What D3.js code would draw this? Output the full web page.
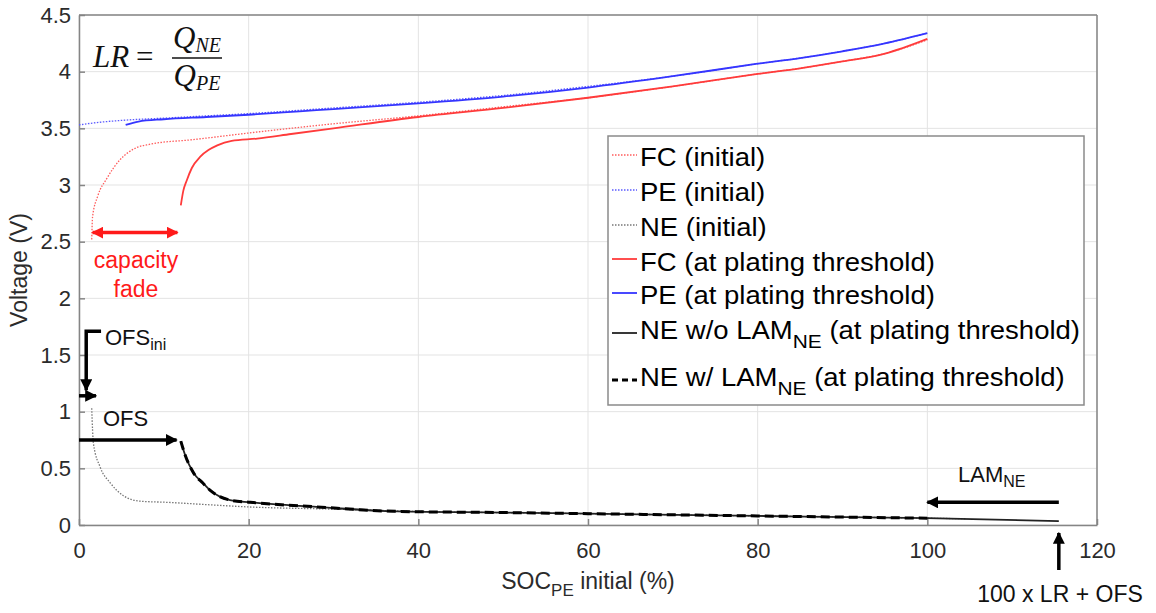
<!DOCTYPE html>
<html>
<head>
<meta charset="utf-8">
<script src="https://cdn.jsdelivr.net/npm/d3@7"></script>
<style>
  body { margin: 0; background: #fff; }
  svg { font-family: "Liberation Sans", Arial, sans-serif; }
</style>
</head>
<body>
<script>
// curves: SOC_PE initial (%) vs voltage (V)
const fcIniX = [1.5, 1.6, 2.2, 3.3, 4.8, 6.8, 8.4, 13.4, 21.3, 30, 40, 50, 60, 70, 80, 85, 90, 95, 100];
const fcIniY = [2.52, 2.72, 2.9, 3.06, 3.22, 3.33, 3.36, 3.40, 3.47, 3.54, 3.61, 3.69, 3.77, 3.87, 3.98, 4.03, 4.09, 4.16, 4.28];

const peIniX = [0, 2, 5, 10, 15, 20, 30, 40, 50, 60, 70, 80, 85, 90, 95, 100];
const peIniY = [3.53, 3.55, 3.57, 3.59, 3.61, 3.63, 3.68, 3.73, 3.79, 3.87, 3.96, 4.07, 4.12, 4.18, 4.25, 4.34];

const neIniX = [1.5, 1.7, 2.5, 3.7, 5.2, 7.2, 10.4, 15, 19.8, 30, 40, 60, 80, 100, 104.5];
const neIniY = [1.03, 0.72, 0.51, 0.37, 0.26, 0.21, 0.20, 0.18, 0.16, 0.14, 0.12, 0.10, 0.08, 0.06, 0.055];

const fcPlX = [12, 12.3, 12.7, 13.3, 14.3, 15.3, 16.3, 18, 21, 25, 30, 40, 50, 60, 70, 80, 85, 90, 95, 100];
const fcPlY = [2.82, 2.95, 3.04, 3.15, 3.25, 3.31, 3.35, 3.39, 3.41, 3.45, 3.50, 3.60, 3.68, 3.77, 3.87, 3.98, 4.03, 4.09, 4.16, 4.29];

const pePlX = [5.5, 7, 10, 15, 20, 26, 30, 40, 50, 60, 70, 80, 85, 90, 95, 100];
const pePlY = [3.53, 3.56, 3.58, 3.60, 3.62, 3.65, 3.67, 3.72, 3.78, 3.86, 3.96, 4.07, 4.12, 4.18, 4.25, 4.34];

const nePlX = [12, 12.5, 13.5, 14.6, 15.4, 16.6, 17.8, 20.2, 28, 37.5, 50, 60, 80, 100, 115.5];
const nePlY = [0.74, 0.62, 0.46, 0.37, 0.31, 0.25, 0.22, 0.20, 0.16, 0.12, 0.11, 0.10, 0.08, 0.06, 0.035];

const neLamX = [12, 12.5, 13.5, 14.6, 15.4, 16.6, 17.8, 20.2, 28, 37.5, 50, 60, 80, 100];
const neLamY = [0.74, 0.62, 0.46, 0.37, 0.31, 0.25, 0.22, 0.20, 0.16, 0.12, 0.11, 0.10, 0.08, 0.06];

const xTicks = [0, 20, 40, 60, 80, 100, 120];
const yTicks = [0, 0.5, 1, 1.5, 2, 2.5, 3, 3.5, 4, 4.5];

const width = 1156, height = 613;
const margin = {left: 79, top: 15, right: 59, bottom: 88};

const svg = d3.select('body').append('svg')
    .attr('width', width)
    .attr('height', height);

const x = d3.scaleLinear().domain([0, 120]).range([margin.left, width - margin.right]);
const y = d3.scaleLinear().domain([0, 4.5]).range([height - margin.bottom, margin.top]);

// grid
svg.append('g').selectAll('line.gx')
    .data(xTicks).enter().append('line')
    .attr('x1', d => x(d)).attr('x2', d => x(d))
    .attr('y1', y(0)).attr('y2', y(4.5))
    .attr('stroke', '#e3e3e3').attr('stroke-width', 1);
svg.append('g').selectAll('line.gy')
    .data(yTicks).enter().append('line')
    .attr('y1', d => y(d)).attr('y2', d => y(d))
    .attr('x1', x(0)).attr('x2', x(120))
    .attr('stroke', '#e3e3e3').attr('stroke-width', 1);

// axes
const xAxis = svg.append('g')
    .attr('transform', `translate(0,${y(0)})`)
    .call(d3.axisBottom(x).tickValues(xTicks).tickSize(-6).tickPadding(17).tickSizeOuter(0));
const yAxis = svg.append('g')
    .attr('transform', `translate(${x(0)},0)`)
    .call(d3.axisLeft(y).tickValues(yTicks).tickSize(-6).tickPadding(8).tickSizeOuter(0).tickFormat(d3.format('~g')));
[xAxis, yAxis].forEach(a => {
    a.selectAll('path,line').attr('stroke', '#858585').attr('stroke-width', 1.5);
    a.selectAll('text').attr('font-size', 22).attr('fill', '#2b2b2b').attr('font-family', '"Liberation Sans", Arial');
});
// box top/right
svg.append('line').attr('x1', x(0)).attr('x2', x(120)).attr('y1', y(4.5)).attr('y2', y(4.5))
    .attr('stroke', '#858585').attr('stroke-width', 1.5);
svg.append('line').attr('x1', x(120)).attr('x2', x(120)).attr('y1', y(0)).attr('y2', y(4.5))
    .attr('stroke', '#858585').attr('stroke-width', 1.5);

// axis titles
svg.append('text')
    .attr('transform', `translate(27,${y(2.25)}) rotate(-90)`)
    .attr('text-anchor', 'middle').attr('font-size', 23).attr('fill', '#2b2b2b')
    .text('Voltage (V)');
const xt = svg.append('text')
    .attr('x', x(60)).attr('y', 589)
    .attr('text-anchor', 'middle').attr('font-size', 23).attr('fill', '#2b2b2b');
xt.append('tspan').text('SOC');
xt.append('tspan').attr('font-size', 17).attr('dy', 7).text('PE');
xt.append('tspan').attr('dy', -7).text(' initial (%)');

// curves
const line = d3.line().x(d => x(d[0])).y(d => y(d[1])).curve(d3.curveMonotoneX);
const series = [
    {xs: fcIniX, ys: fcIniY, color: '#ff5c5c', w: 1.3, dash: '1.5,1.5'},
    {xs: peIniX, ys: peIniY, color: '#5a5aff', w: 1.3, dash: '1.5,1.5'},
    {xs: neIniX, ys: neIniY, color: '#777', w: 1.3, dash: '1.5,1.5'},
    {xs: fcPlX, ys: fcPlY, color: '#ff3b3b', w: 1.8, dash: null},
    {xs: pePlX, ys: pePlY, color: '#3535ff', w: 1.8, dash: null},
    {xs: nePlX, ys: nePlY, color: '#222', w: 1.8, dash: null},
    {xs: neLamX, ys: neLamY, color: '#000', w: 3, dash: '9,5'}
];
svg.append('g').selectAll('path')
    .data(series).enter().append('path')
    .attr('d', s => line(s.xs.map((v, i) => [v, s.ys[i]])))
    .attr('fill', 'none')
    .attr('stroke', s => s.color)
    .attr('stroke-width', s => s.w)
    .attr('stroke-dasharray', s => s.dash);

// legend
const legLabels = [
    ['FC (initial)'], ['PE (initial)'], ['NE (initial)'],
    ['FC (at plating threshold)'], ['PE (at plating threshold)'],
    ['NE w/o LAM', 'NE', ' (at plating threshold)'],
    ['NE w/ LAM', 'NE', ' (at plating threshold)']
];
const legLineY = [155, 190, 225, 259, 293, 333, 380];
const legTextY = [166, 201, 236, 271, 304, 339, 386];
svg.append('rect')
    .attr('x', 608).attr('y', 136).attr('width', 476).attr('height', 269)
    .attr('fill', '#fff').attr('stroke', '#8a8a8a').attr('stroke-width', 1.5);
const leg = svg.append('g');
series.forEach((s, i) => {
    leg.append('line')
        .attr('x1', 612).attr('x2', 637)
        .attr('y1', legLineY[i]).attr('y2', legLineY[i])
        .attr('stroke', s.color).attr('stroke-width', s.w)
        .attr('stroke-dasharray', i === 6 ? '6,4' : s.dash);
    const t = leg.append('text')
        .attr('transform', `translate(640,${legTextY[i]}) scale(1.1,1)`)
        .attr('font-size', 25).attr('fill', '#000');
    const parts = legLabels[i];
    t.append('tspan').text(parts[0]);
    if (parts.length > 1) {
        t.append('tspan').attr('dy', 9).attr('font-size', 19).text(parts[1]);
        t.append('tspan').attr('dy', -9).text(parts[2]);
    }
});

// formula LR = Q_NE / Q_PE
const f = svg.append('g').attr('font-family', '"Liberation Serif", "Times New Roman", serif')
    .attr('font-style', 'italic').attr('fill', '#111');
f.append('text').attr('x', 93).attr('y', 67).attr('font-size', 31).text('LR');
f.append('text').attr('x', 136).attr('y', 67).attr('font-size', 31).attr('font-style', 'normal').text('=');
const q1 = f.append('text').attr('x', 197).attr('y', 48).attr('text-anchor', 'middle').attr('font-size', 31);
q1.append('tspan').text('Q');
q1.append('tspan').attr('font-size', 20).attr('dy', 4).text('NE');
const q2 = f.append('text').attr('x', 197).attr('y', 86).attr('text-anchor', 'middle').attr('font-size', 31);
q2.append('tspan').text('Q');
q2.append('tspan').attr('font-size', 20).attr('dy', 4).text('PE');
f.append('line').attr('x1', 172).attr('x2', 222).attr('y1', 58).attr('y2', 58)
    .attr('stroke', '#111').attr('stroke-width', 1.5);

// arrow heads
const defs = svg.append('defs');
function head(id, color) {
    defs.append('marker').attr('id', id)
        .attr('viewBox', '0 0 10 10').attr('refX', 9).attr('refY', 5)
        .attr('markerWidth', 12).attr('markerHeight', 12)
        .attr('markerUnits', 'userSpaceOnUse').attr('orient', 'auto-start-reverse')
        .append('path').attr('d', 'M0,0 L10,5 L0,10 Z').attr('fill', color);
}
head('hk', '#000');
head('hr', '#ff1a1a');

function arrow(pts, color, mk, both) {
    const p = svg.append('path')
        .attr('d', d3.line()(pts.map(q => [x(q[0]), y(q[1])])))
        .attr('fill', 'none').attr('stroke', color).attr('stroke-width', 3.5)
        .attr('marker-end', `url(#${mk})`);
    if (both) p.attr('marker-start', `url(#${mk})`);
}
// capacity fade
arrow([[1.6, 2.58], [11.6, 2.58]], '#ff1a1a', 'hr', true);
// OFS_ini
arrow([[2.6, 1.71], [0.85, 1.71], [0.85, 1.19]], '#000', 'hk');
arrow([[0, 1.14], [2.0, 1.14]], '#000', 'hk');
// OFS
arrow([[0, 0.75], [11.5, 0.75]], '#000', 'hk');
// LAM_NE
arrow([[115.5, 0.2], [100, 0.2]], '#000', 'hk');
// 100 x LR + OFS
svg.append('line').attr('x1', x(115.5)).attr('x2', x(115.5))
    .attr('y1', 570).attr('y2', 533)
    .attr('stroke', '#000').attr('stroke-width', 3.5).attr('marker-end', 'url(#hk)');

// annotation texts
const ann = svg.append('g').attr('font-size', 22).attr('fill', '#111');
const t1 = ann.append('text').attr('x', 105).attr('y', 345);
t1.append('tspan').text('OFS');
t1.append('tspan').attr('font-size', 16).attr('dy', 5).text('ini');
ann.append('text').attr('x', 103).attr('y', 426).text('OFS');
const t2 = ann.append('text').attr('x', 958).attr('y', 482);
t2.append('tspan').text('LAM');
t2.append('tspan').attr('font-size', 16).attr('dy', 5).text('NE');
ann.append('text').attr('x', 1060).attr('y', 602).attr('text-anchor', 'middle').attr('font-size', 23).text('100 x LR + OFS');
ann.append('text').attr('x', 136).attr('y', 268).attr('text-anchor', 'middle')
    .attr('fill', '#ff1a1a').attr('font-size', 23).text('capacity');
ann.append('text').attr('x', 136).attr('y', 297).attr('text-anchor', 'middle')
    .attr('fill', '#ff1a1a').attr('font-size', 23).text('fade');
</script>
</body>
</html>
